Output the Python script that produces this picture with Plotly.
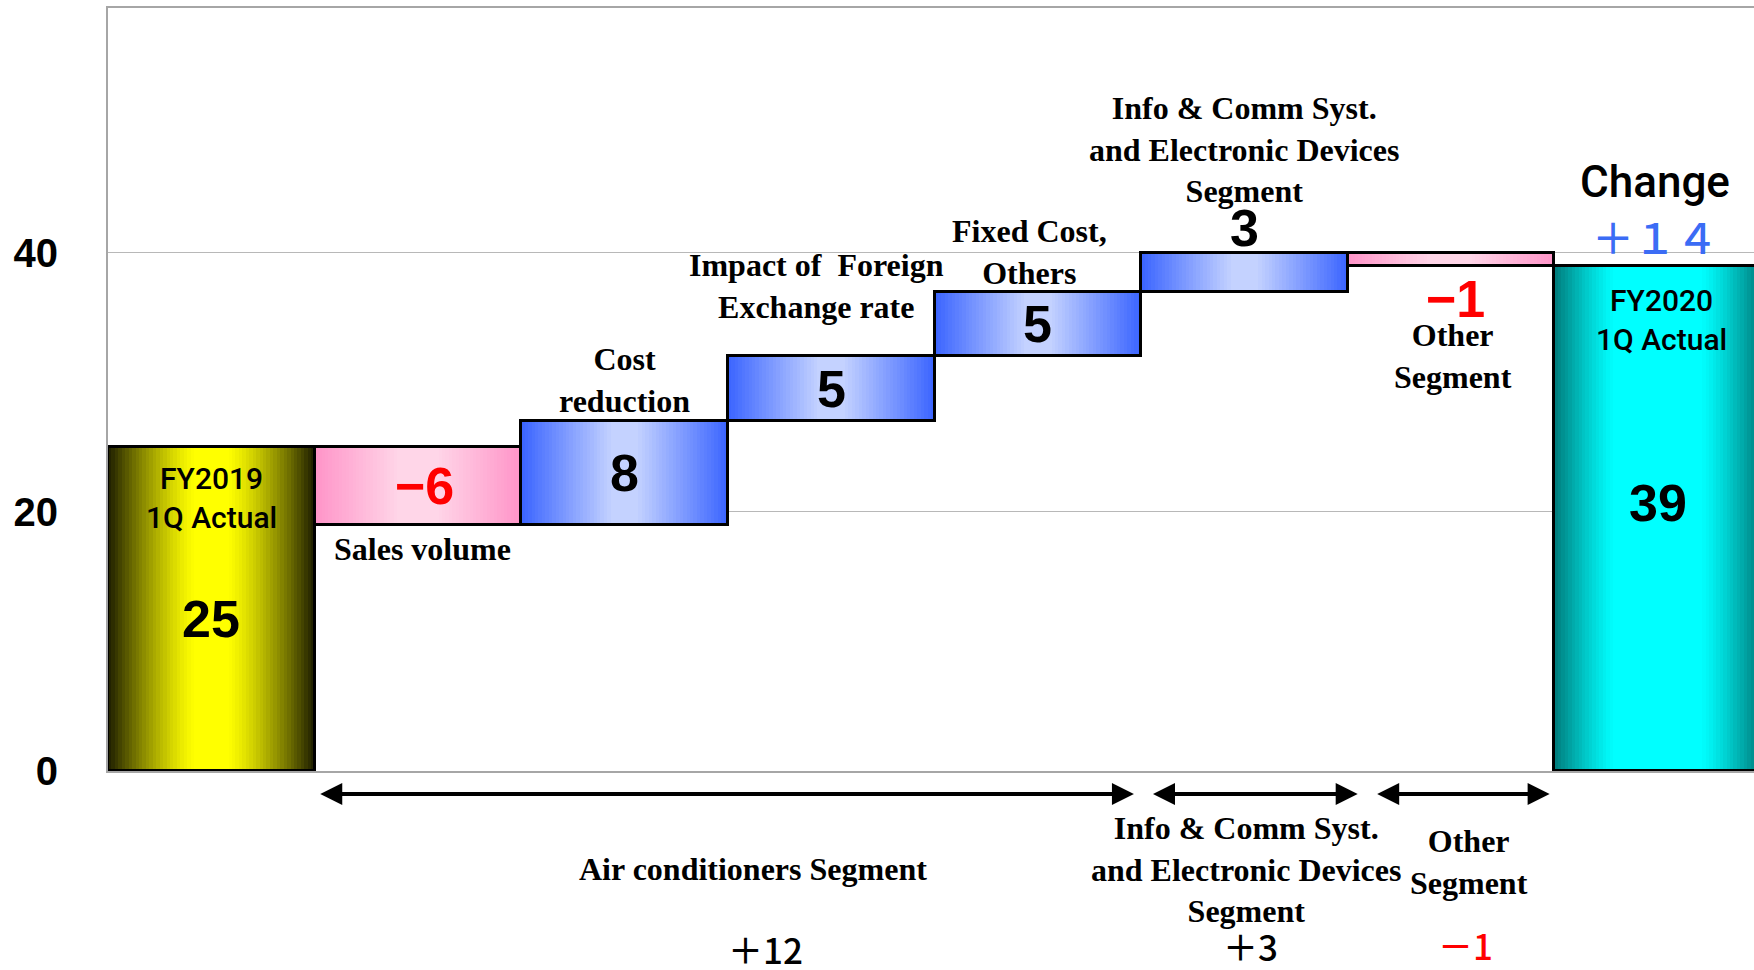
import plotly.graph_objects as go

# ---- data -------------------------------------------------------------
categories = [
    "FY2019 1Q Actual",
    "Sales volume",
    "Cost reduction",
    "Impact of Foreign Exchange rate",
    "Fixed Cost, Others",
    "Info & Comm Syst. and Electronic Devices Segment",
    "Other Segment",
    "FY2020 1Q Actual",
]
changes = [25, -6, 8, 5, 5, 3, -1, 39]
kinds = ["total", "delta", "delta", "delta", "delta", "delta", "delta", "total"]
value_text = ["25", "−6", "8", "5", "5", "3", "−1", "39"]

step_labels = [
    "FY2019<br>1Q Actual",
    "Sales volume",
    "Cost<br>reduction",
    "Impact of  Foreign<br>Exchange rate",
    "Fixed Cost,<br>Others",
    "Info & Comm Syst.<br>and Electronic Devices<br>Segment",
    "Other<br>Segment",
    "FY2020<br>1Q Actual",
]

segment_names = [
    "Air conditioners Segment",
    "Info & Comm Syst.<br>and Electronic Devices<br>Segment",
    "Other<br>Segment",
]
segment_first = [1, 5, 6]
segment_last = [4, 5, 6]
segment_totals = ["＋12", "＋3", "－1"]
total_change = "＋１４"

y_ticks = [0, 20, 40]
Y_MAX = 58.9

# ---- waterfall geometry from the data ---------------------------------
bases, heights = [], []
running = 0
for v, k in zip(changes, kinds):
    if k == "total":
        bases.append(0)
        heights.append(v)
        running = v
    else:
        start, end = running, running + v
        bases.append(min(start, end))
        heights.append(abs(v))
        running = end

idx = list(range(len(categories)))

# ---- gradient fills (edge -> centre -> edge) ---------------------------
PALETTES = {
    "start": dict(edge=(28, 28, 0), centre=(255, 255, 0), plateau=0.15, gamma=1.3),
    "end": dict(edge=(0, 122, 122), centre=(0, 255, 255), plateau=0.42, gamma=1.2),
    "up": dict(edge=(58, 100, 255), centre=(196, 210, 255), plateau=0.12, gamma=1.0),
    "down": dict(edge=(255, 148, 200), centre=(255, 214, 232), plateau=0.18, gamma=1.0),
}


def palette_for(i):
    if i == 0:
        return PALETTES["start"]
    if i == len(changes) - 1:
        return PALETTES["end"]
    return PALETTES["up"] if changes[i] > 0 else PALETTES["down"]


def shade(p, t):
    d = abs(t - 0.5) * 2
    f = 0.0 if d <= p["plateau"] else (d - p["plateau"]) / (1 - p["plateau"])
    f = f ** p["gamma"]
    c = [round(p["centre"][j] + (p["edge"][j] - p["centre"][j]) * f) for j in range(3)]
    return "rgb(%d,%d,%d)" % tuple(c)


N_STRIPS = 60
fig = go.Figure()
for s in range(N_STRIPS):
    left = s / N_STRIPS
    right = min((s + 1.6) / N_STRIPS, 1.0)
    t = (s + 0.5) / N_STRIPS
    fig.add_trace(go.Bar(
        x=[i - 0.5 + (left + right) / 2 for i in idx],
        y=heights,
        base=bases,
        width=[right - left] * len(idx),
        marker=dict(color=[shade(palette_for(i), t) for i in idx], line=dict(width=0)),
        hoverinfo="skip",
    ))

# bar outlines
fig.add_trace(go.Bar(
    x=idx, y=heights, base=bases, width=1,
    marker=dict(color="rgba(0,0,0,0)", line=dict(color="black", width=3)),
    hovertext=categories, hoverinfo="text",
))

# ---- text -------------------------------------------------------------
SANS = "Liberation Sans, Arial, sans-serif"
SERIF = dict(family="Liberation Serif, Times New Roman, serif", size=32, color="black", weight=700)
NUM = dict(family=SANS, size=52, color="black", weight=700)
RED_NUM = dict(NUM, color="#ff0000")
GOTHIC = dict(family="Roboto, Liberation Sans, Arial, sans-serif", size=30, color="black", weight=500)
CJK = "Noto Sans CJK JP, Noto Sans, sans-serif"

ann = []


def note(x, y, text, font, yref="y"):
    ann.append(dict(x=x, y=y, xref="x", yref=yref, text=text, showarrow=False,
                    font=font, xanchor="center", yanchor="middle"))


def below(v):
    # values under the axis are placed in paper units so they stay visible
    return v / Y_MAX


# value labels
for i in idx:
    top = bases[i] + heights[i]
    if i == 0:
        note(i, bases[i] + heights[i] * 0.47, value_text[i], NUM)
    elif i == len(idx) - 1:
        note(i, bases[i] + heights[i] * 0.53, value_text[i], NUM)
    elif i == 5:
        note(i, top + 1.95, value_text[i], NUM)
    elif i == 6:
        note(i + 0.02, bases[i] - 2.55, value_text[i], RED_NUM)
    else:
        note(i + (0.03 if changes[i] < 0 else 0), bases[i] + heights[i] / 2, value_text[i],
             RED_NUM if changes[i] < 0 else NUM)

# step names
note(0, 21.1, step_labels[0], GOTHIC)
note(1.02, 17.1, step_labels[1], SERIF)
note(2.0, 30.2, step_labels[2], SERIF)
note(2.93, 37.45, step_labels[3], SERIF)
note(3.96, 40.1, step_labels[4], SERIF)
note(5.0, 48.0, step_labels[5], SERIF)
note(6.01, 32.0, step_labels[6], SERIF)
note(7.02, 34.8, step_labels[7], GOTHIC)

note(6.985, 45.5, "Change", dict(family="Roboto, Liberation Sans, sans-serif", size=44,
                                 color="black", weight=500))
note(6.985, 41.3, total_change, dict(family=CJK, size=42, color="#3b6cf5", weight=500))

# segment brackets below the axis
arrow_pad = [(0.02, 0.035), (0.05, -0.048), (0.135, 0.023)]
seg_text_x = [2.62, 5.007, 6.085]
seg_text_y = [-7.57, -7.57, -6.99]
seg_total_x = [2.68, 5.03, 6.07]
seg_total_y = [-13.7, -13.5, -13.4]
for k in range(len(segment_names)):
    x0 = segment_first[k] - 0.5 + arrow_pad[k][0]
    x1 = segment_last[k] + 0.5 - arrow_pad[k][1]
    ann.append(dict(x=x1, y=below(-1.78), ax=x0, ay=0, xref="x", yref="paper",
                    axref="x", ayref="pixel",
                    text="", showarrow=True, arrowhead=2, arrowside="end+start",
                    arrowsize=1.1, arrowwidth=4, arrowcolor="black", standoff=0, startstandoff=0))
    note(seg_text_x[k], below(seg_text_y[k]), segment_names[k], SERIF, yref="paper")
    col = "#ff0000" if segment_totals[k].startswith("－") else "black"
    note(seg_total_x[k], below(seg_total_y[k]), segment_totals[k],
         dict(family=CJK, size=35, color=col, weight=500), yref="paper")

fig.update_layout(
    width=1754, height=970,
    margin=dict(l=108, r=0, t=8, b=199, pad=0),
    barmode="overlay",
    bargap=0,
    showlegend=False,
    plot_bgcolor="white",
    paper_bgcolor="white",
    annotations=ann,
    xaxis=dict(range=[-0.5, 7.466], showticklabels=False, ticks="", showgrid=False,
               zeroline=False, showline=True, mirror=True, linecolor="#a6a6a6", linewidth=2,
               layer="below traces", fixedrange=True),
    yaxis=dict(range=[0, Y_MAX], tickvals=y_ticks, ticktext=[str(v) for v in y_ticks],
               tickfont=dict(family=SANS, size=40, color="black", weight=700),
               ticks="", ticklabelstandoff=40, showgrid=True, gridcolor="#b8b8b8", gridwidth=1,
               zeroline=False, showline=True, linecolor="#a6a6a6", linewidth=2,
               layer="below traces", fixedrange=True),
)

fig.write_html("out.html")
